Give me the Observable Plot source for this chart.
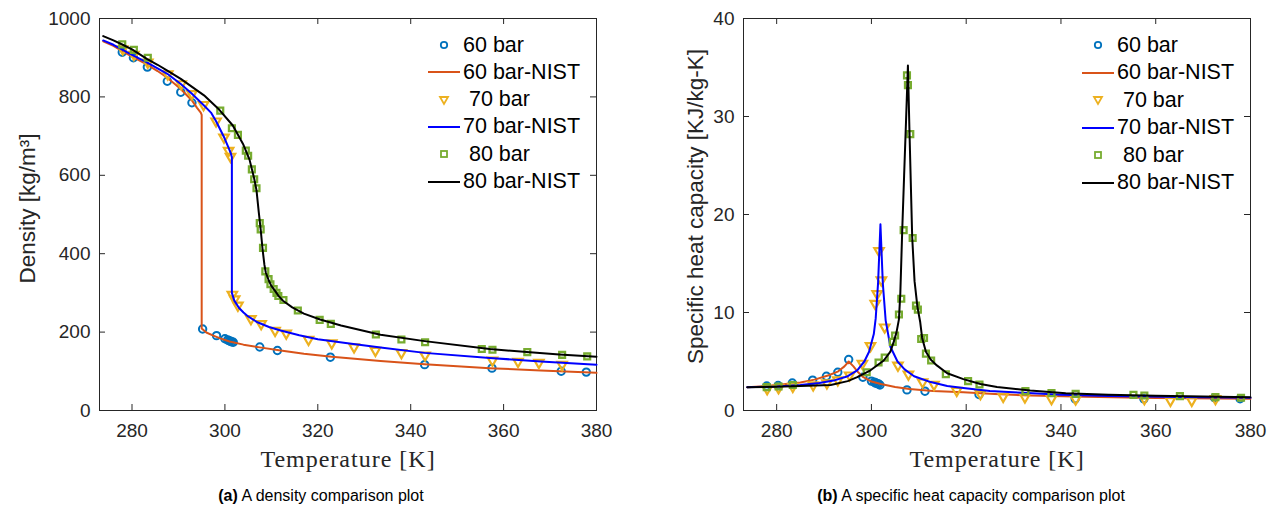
<!DOCTYPE html>
<html><head><meta charset="utf-8">
<script src="https://cdn.jsdelivr.net/npm/d3@7"></script>
<script src="https://cdn.jsdelivr.net/npm/@observablehq/plot@0.6"></script>
<style>
body{margin:0;background:#fff;}
#wrap{position:relative;width:1284px;height:511px;overflow:hidden;font-family:"Liberation Sans",Arial,sans-serif;background:#fff;}
.panel{position:absolute;top:0;}
.lrow{position:absolute;height:26px;display:flex;align-items:center;font-size:21.5px;color:#000;white-space:pre;}
.lrow svg{flex:none;}
.caption{position:absolute;top:486px;font-size:16px;line-height:20px;text-align:center;color:#000;white-space:nowrap;}
</style>
</head><body>
<div id="wrap"></div>
<script>
// ---------- data ----------
const xTicks = [280, 300, 320, 340, 360, 380];
const rhoTicks = [0, 200, 400, 600, 800, 1000];
const cpTicks = [0, 10, 20, 30, 40];
const legendLabels = ["60 bar", "60 bar-NIST", " 70 bar", "70 bar-NIST", " 80 bar", "80 bar-NIST"];

// model points (markers)
const T60 = [277.9, 280.3, 283.3, 287.6, 290.5, 292.9, 295.2, 298.2, 300.0, 300.6, 300.9, 301.2, 301.5, 301.8, 307.5, 311.3, 322.7, 343.0, 357.5, 372.4, 377.8];
const rho60 = [914, 900, 876, 840, 812, 785, 208, 191, 183, 180, 178, 177, 175, 174, 162, 153, 136, 117, 108, 100, 98];
const cp60 = [2.5, 2.55, 2.8, 3.1, 3.5, 3.9, 5.2, 3.4, 3.0, 2.9, 2.8, 2.75, 2.7, 2.6, 2.1, 1.97, 1.63, 1.19, 1.19, 1.3, 1.2];

const T70 = [278.0, 280.4, 283.4, 287.7, 290.6, 292.9, 295.4, 298.1, 299.8, 300.8, 301.2, 301.6, 302.1, 302.8, 305.6, 307.8, 310.8, 313.2, 318.0, 323.0, 327.8, 332.4, 338.0, 343.1, 357.6, 363.1, 367.6, 372.6];
const rho70 = [922, 908, 888, 858, 833, 808, 780, 738, 697, 663, 648, 296, 284, 268, 234, 221, 204, 197, 181, 172, 162, 153, 147, 141, 128, 125, 122, 117];
const cp70 = [2.2, 2.3, 2.45, 2.6, 2.8, 3.1, 3.6, 4.8, 6.6, 10.9, 11.9, 16.3, 13.3, 8.5, 4.6, 3.7, 2.9, 2.65, 2.04, 1.7, 1.43, 1.36, 1.2, 1.15, 1.2, 1.02, 1.02, 1.2];

const T80 = [277.9, 280.4, 283.4, 299.0, 301.5, 302.8, 304.5, 305.0, 305.8, 306.3, 306.8, 307.5, 307.7, 308.2, 308.7, 309.4, 309.8, 310.5, 311.1, 311.5, 312.6, 315.7, 320.4, 322.8, 332.5, 338.0, 343.1, 355.3, 357.6, 365.1, 372.6, 378.0];
const rho80 = [934, 920, 900, 765, 720, 703, 663, 650, 615, 590, 567, 478, 462, 415, 355, 335, 322, 310, 300, 292, 282, 255, 231, 221, 194, 181, 174, 157, 155, 149, 142, 138];
const cp80 = [2.38, 2.45, 2.6, 3.9, 4.9, 5.4, 7.0, 7.65, 9.8, 11.4, 18.4, 34.2, 33.2, 28.2, 17.6, 10.7, 10.3, 7.3, 7.4, 5.8, 5.1, 3.7, 3.0, 2.65, 1.97, 1.77, 1.7, 1.6, 1.53, 1.46, 1.36, 1.3];

// NIST reference curves — density
const rhoNistT60 = [273.8, 276, 278, 280, 283.2, 285.5, 287.6, 290.5, 292.9, 294.0, 294.8, 295.0, 295.0, 296.0, 297.5, 299.0, 301.0, 304.0, 307.5, 312.0, 317.0, 323.0, 333.5, 343.0, 357.0, 368.0, 380.0];
const rhoNist60 = [942, 930, 916, 903, 883, 866, 849, 820, 791, 772, 760, 754, 209, 199, 191, 184, 176, 168, 161, 153, 145, 137, 126, 118, 108, 102, 96];
const rhoNistT70 = [273.8, 276, 278, 280, 283.2, 285.5, 287.6, 290.5, 292.9, 295.5, 297.0, 298.1, 299.9, 300.8, 301.3, 301.5, 301.5, 302.0, 303.0, 304.0, 305.0, 307.0, 309.5, 312.0, 316.0, 320.0, 326.0, 333.5, 343.0, 357.0, 368.0, 380.0];
const rhoNist70 = [944, 933, 920, 907, 888, 873, 859, 833, 808, 778, 760, 738, 695, 670, 655, 646, 300, 281, 262, 250, 240, 225, 213, 204, 192, 182, 172, 161, 147, 134, 125, 117];
const rhoNistT80 = [273.8, 276, 278, 280, 283.2, 285.5, 287.6, 290.5, 293.0, 295.5, 298.8, 301.7, 303.9, 305.3, 306.3, 306.8, 307.3, 307.7, 308.1, 308.5, 308.8, 309.4, 310.0, 310.8, 311.5, 312.5, 314.5, 317.0, 320.5, 325.0, 333.5, 343.0, 357.0, 365.0, 372.0, 380.0];
const rhoNist80 = [955, 944, 933, 921, 897, 882, 867, 846, 825, 804, 767, 727, 680, 640, 592, 562, 505, 462, 412, 372, 352, 333, 318, 305, 293, 280, 263, 247, 232, 217, 193, 177, 157, 149, 143, 137];

// NIST reference curves — specific heat
const cpNistT60 = [273.8, 278, 282, 285, 288, 291, 293, 294.3, 295.2, 296.2, 297.2, 298.3, 300.0, 302.0, 305.0, 308.0, 313.0, 319.4, 326.0, 333.5, 345.0, 360.0, 380.0];
const cpNist60 = [2.38, 2.5, 2.7, 2.85, 3.15, 3.6, 4.0, 4.5, 5.0, 4.5, 3.9, 3.4, 2.95, 2.7, 2.4, 2.2, 2.0, 1.87, 1.68, 1.53, 1.4, 1.28, 1.19];
const cpNistT70 = [273.8, 280, 285, 289, 292, 295, 297, 298.5, 299.5, 300.5, 300.9, 301.4, 301.9, 302.4, 303.0, 304.0, 305.5, 307.0, 309.0, 312.5, 316, 319.4, 325, 332, 340, 350, 365, 380];
const cpNist70 = [2.38, 2.45, 2.6, 2.8, 3.05, 3.5, 4.1, 5.0, 6.0, 7.8, 9.4, 13.0, 19.0, 13.0, 9.2, 6.5, 5.0, 4.2, 3.5, 2.9, 2.5, 2.3, 2.0, 1.8, 1.6, 1.48, 1.38, 1.3];
const cpNistT80 = [273.8, 280, 285, 291.4, 295, 297, 299.8, 302.6, 304.0, 304.7, 305.3, 305.8, 306.1, 306.5, 306.9, 307.3, 307.7, 308.0, 308.6, 309.1, 309.7, 310.3, 310.7, 311.5, 312.5, 313.8, 316.0, 319.4, 323.0, 326.5, 333.5, 341, 350, 360, 370, 380];
const cpNist80 = [2.38, 2.42, 2.5, 2.6, 3.0, 3.4, 4.1, 5.1, 6.0, 7.0, 8.0, 9.3, 12.0, 18.4, 24.0, 29.5, 35.2, 29.0, 17.7, 13.2, 10.6, 9.0, 7.4, 6.0, 5.2, 4.6, 3.8, 3.2, 2.7, 2.4, 2.04, 1.77, 1.6, 1.5, 1.42, 1.36];

// ---------- styling ----------
const C = {c60: "#0072BD", n60: "#D95319", c70: "#EDB120", n70: "#0000FF", c80: "#77AC30", n80: "#000000"};
const AX = "#262626";
const zip = (xs, ys) => xs.map((t, i) => ({t, v: ys[i]}));

function panel(o) {
  const H = 475, mt = 18, mb = 65;
  const plotH = H - mt - mb;
  const plotW = o.width - o.marginLeft - o.marginRight;
  const tl = 6;
  const svg = Plot.plot({
    width: o.width, height: H,
    marginLeft: o.marginLeft, marginRight: o.marginRight, marginTop: mt, marginBottom: mb,
    x: {domain: [273, 380], ticks: xTicks, tickSize: 0, tickPadding: 13, tickFormat: "d", label: null},
    y: {domain: o.yDomain, ticks: o.yTicks, tickSize: 0, tickPadding: 9, tickFormat: "d", label: null},
    style: {fontFamily: "'Liberation Sans', Arial, sans-serif", fontSize: "19px", color: AX, background: "white", overflow: "visible"},
    marks: [
      Plot.frame({stroke: AX, strokeWidth: 1}),
      Plot.tickX(xTicks, {x: d => d, stroke: AX, insetTop: plotH - tl}),
      Plot.tickX(xTicks, {x: d => d, stroke: AX, insetBottom: plotH - tl}),
      Plot.tickY(o.yTicks, {y: d => d, stroke: AX, insetRight: plotW - tl}),
      Plot.tickY(o.yTicks, {y: d => d, stroke: AX, insetLeft: plotW - tl}),
      Plot.dot(zip(T60, o.m60), {x: "t", y: "v", r: 3.7, symbol: "circle", stroke: C.c60, strokeWidth: 2, fill: "none"}),
      Plot.line(zip(o.nT60, o.n60), {x: "t", y: "v", stroke: C.n60, strokeWidth: 2}),
      Plot.dot(zip(T70, o.m70), {x: "t", y: "v", r: 3.5, symbol: "triangle", rotate: 180, stroke: C.c70, strokeWidth: 2.2, fill: "none"}),
      Plot.line(zip(o.nT70, o.n70), {x: "t", y: "v", stroke: C.n70, strokeWidth: 2}),
      Plot.dot(zip(T80, o.m80), {x: "t", y: "v", r: 3.3, symbol: "square", stroke: C.c80, strokeWidth: 2.3, fill: "none"}),
      Plot.line(zip(o.nT80, o.n80), {x: "t", y: "v", stroke: C.n80, strokeWidth: 2}),
      Plot.text(["Temperature [K]"], {text: d => d, frameAnchor: "bottom", textAnchor: "middle", lineAnchor: "middle", dy: 49, fontFamily: "'Liberation Serif', 'DejaVu Serif', serif", fontSize: 24, fill: AX}),
      Plot.text([o.yLabel], {text: d => d, frameAnchor: "left", textAnchor: "middle", lineAnchor: "middle", rotate: -90, dx: o.ylDx, dy: o.ylDy, fontSize: 22.5, fill: AX})
    ]
  });
  svg.querySelectorAll("text").forEach(t => {
    if (t.textContent === "Temperature [K]") t.setAttribute("letter-spacing", "1");
  });
  return svg;
}

const wrap = document.getElementById("wrap");

function addPanel(svg, left) {
  const d = document.createElement("div");
  d.className = "panel";
  d.style.left = left + "px";
  d.appendChild(svg);
  wrap.appendChild(d);
}

addPanel(panel({
  width: 640, marginLeft: 99, marginRight: 44, yDomain: [0, 1000], yTicks: rhoTicks,
  m60: rho60, m70: rho70, m80: rho80,
  nT60: rhoNistT60, n60: rhoNist60, nT70: rhoNistT70, n70: rhoNist70, nT80: rhoNistT80, n80: rhoNist80,
  yLabel: "Density [kg/m³]", ylDx: -72, ylDy: -6
}), 0);

addPanel(panel({
  width: 644, marginLeft: 103, marginRight: 34, yDomain: [0, 40], yTicks: cpTicks,
  m60: cp60, m70: cp70, m80: cp80,
  nT60: cpNistT60, n60: cpNist60, nT70: cpNistT70, n70: cpNist70, nT80: cpNistT80, n80: cpNist80,
  yLabel: "Specific heat capacity [KJ/kg-K]", ylDx: -48, ylDy: -8
}), 640);

// ---------- legends ----------
const legendKinds = [
  {kind: "circle", color: C.c60}, {kind: "line", color: C.n60},
  {kind: "tri", color: C.c70}, {kind: "line", color: C.n70},
  {kind: "square", color: C.c80}, {kind: "line", color: C.n80}
];
function symbolSvg(k) {
  const ns = "http://www.w3.org/2000/svg";
  const s = document.createElementNS(ns, "svg");
  s.setAttribute("width", 36); s.setAttribute("height", 26);
  let el;
  if (k.kind === "line") {
    el = document.createElementNS(ns, "line");
    el.setAttribute("x1", 1); el.setAttribute("x2", 33); el.setAttribute("y1", 13); el.setAttribute("y2", 13);
    el.setAttribute("stroke-width", 2);
  } else if (k.kind === "circle") {
    el = document.createElementNS(ns, "circle");
    el.setAttribute("cx", 17); el.setAttribute("cy", 13); el.setAttribute("r", 3.2);
    el.setAttribute("stroke-width", 1.8); el.setAttribute("fill", "none");
  } else if (k.kind === "tri") {
    el = document.createElementNS(ns, "path");
    el.setAttribute("d", "M13,10 L21,10 L17,17 Z");
    el.setAttribute("stroke-width", 1.8); el.setAttribute("fill", "none");
  } else {
    el = document.createElementNS(ns, "rect");
    el.setAttribute("x", 14); el.setAttribute("y", 10); el.setAttribute("width", 6); el.setAttribute("height", 6);
    el.setAttribute("stroke-width", 1.8); el.setAttribute("fill", "none");
  }
  el.setAttribute("stroke", k.color);
  s.appendChild(el);
  return s;
}
function addLegend(x0, y0, step) {
  legendLabels.forEach((lab, i) => {
    const row = document.createElement("div");
    row.className = "lrow";
    row.style.left = x0 + "px";
    row.style.top = (y0 + i * step - 13) + "px";
    row.appendChild(symbolSvg(legendKinds[i]));
    const sp = document.createElement("span");
    sp.textContent = lab;
    row.appendChild(sp);
    wrap.appendChild(row);
  });
}
addLegend(427, 45, 27.3);
addLegend(1081, 45, 27.5);

// ---------- captions ----------
function addCaption(left, width, tag, text) {
  const d = document.createElement("div");
  d.className = "caption";
  d.style.left = left + "px";
  d.style.width = width + "px";
  const b = document.createElement("b");
  b.textContent = tag;
  d.appendChild(b);
  d.appendChild(document.createTextNode(" " + text));
  wrap.appendChild(d);
}
addCaption(0, 642, "(a)", "A density comparison plot");
addCaption(658, 626, "(b)", "A specific heat capacity comparison plot");
</script>
</body></html>
